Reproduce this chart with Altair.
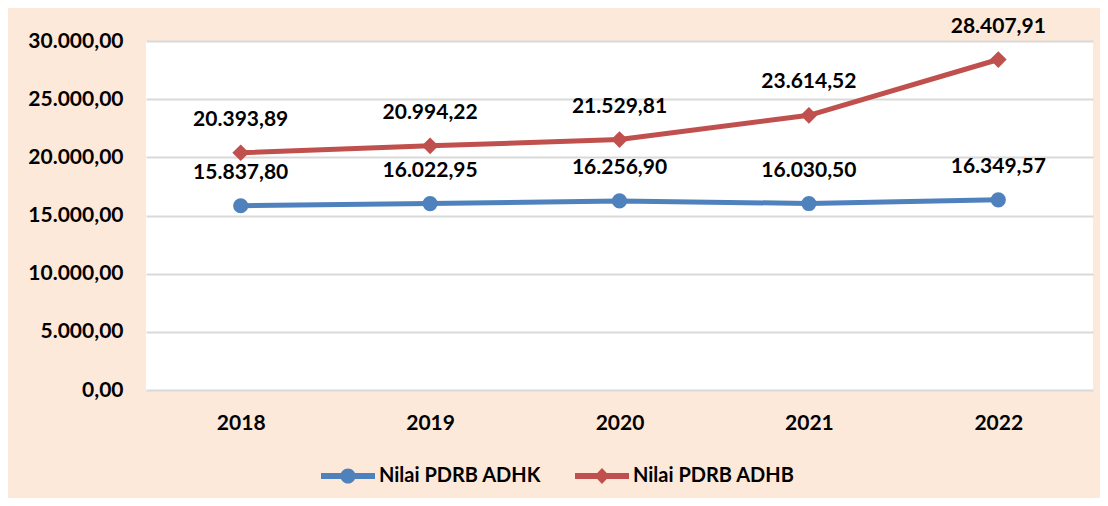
import altair as alt
import pandas as pd

years = ["2018", "2019", "2020", "2021", "2022"]
adhk = [15837.80, 16022.95, 16256.90, 16030.50, 16349.57]
adhb = [20393.89, 20994.22, 21529.81, 23614.52, 28407.91]
series = ["Nilai PDRB ADHK", "Nilai PDRB ADHB"]
colors = ["#4F81BD", "#C0504D"]
y_ticks = [0, 5000, 10000, 15000, 20000, 25000, 30000]

df = pd.DataFrame({
    "year": years * 2,
    "value": adhk + adhb,
    "series": [series[0]] * len(years) + [series[1]] * len(years),
})

FONT = "Lato"
FS = 21

# legend symbols: line bar + marker
sym_circle = ("M-1,-0.11 L1,-0.11 L1,0.11 L-1,0.11 Z "
              "M0.28,0 A0.28,0.28 0 1,1 -0.28,0 A0.28,0.28 0 1,1 0.28,0 Z")
sym_diamond = ("M-1,-0.11 L1,-0.11 L1,0.11 L-1,0.11 Z "
               "M0,-0.3 L0.28,0 L0,0.3 L-0.28,0 Z")

leg = alt.Legend(
    orient="none", legendX=175, legendY=408, direction="horizontal",
    title=None, symbolSize=2916, symbolStrokeWidth=0, labelLimit=400,
    labelFont=FONT, labelFontSize=20, labelFontWeight="bold", labelColor="black",
    labelOffset=4, columnPadding=33,
)

color_enc = alt.Color("series:N", scale=alt.Scale(domain=series, range=colors), legend=leg)

x_enc = alt.X("year:O", title=None,
              axis=alt.Axis(labelAngle=0, grid=False, domain=False, ticks=False,
                            labelFont=FONT, labelFontSize=FS, labelFontWeight="bold",
                            labelColor="black", labelPadding=22))
y_enc = alt.Y("value:Q", title=None,
              scale=alt.Scale(domain=[0, 30000], nice=False),
              axis=alt.Axis(values=y_ticks, format=",.2f", domain=False, ticks=False,
                            grid=True, gridColor="#D9D9D9", gridWidth=2,
                            labelFont=FONT, labelFontSize=FS, labelFontWeight="bold",
                            labelColor="black", labelPadding=23))

base = alt.Chart(df)

legend_layer = base.mark_point(filled=True, clip=True, opacity=1).encode(
    x=alt.value(-500), y=alt.value(-500),
    color=color_enc,
    shape=alt.Shape("series:N", scale=alt.Scale(domain=series, range=[sym_circle, sym_diamond]), legend=leg),
)

lines = base.mark_line(strokeWidth=5, strokeCap="round", strokeJoin="round").encode(
    x=x_enc, y=y_enc, color=color_enc, detail="series:N"
)

circles = base.transform_filter(alt.datum.series == series[0]).mark_circle(size=230, opacity=1).encode(
    x="year:O", y="value:Q", color=color_enc
)
diamonds = base.transform_filter(alt.datum.series == series[1]).mark_point(
    shape="diamond", filled=True, size=280, opacity=1
).encode(x="year:O", y="value:Q", color=color_enc)

labels = base.mark_text(dy=-33, font=FONT, fontSize=FS, fontWeight="bold", color="black").encode(
    x="year:O", y="value:Q", text=alt.Text("value:Q", format=",.2f")
)

chart = alt.layer(legend_layer, lines, circles, diamonds, labels).properties(
    width=947, height=349,
    autosize=alt.AutoSizeParams(type="none"),
    padding={"left": 138, "top": 33, "right": 7, "bottom": 108},
    background="#FDE9D9",
).configure(
    locale=alt.Locale(number=alt.NumberLocale(decimal=",", thousands=".", grouping=[3], currency=["", ""]))
).configure_view(fill="white", stroke=None)

chart.save("out.html", embed_options={"renderer": "svg", "actions": False})
